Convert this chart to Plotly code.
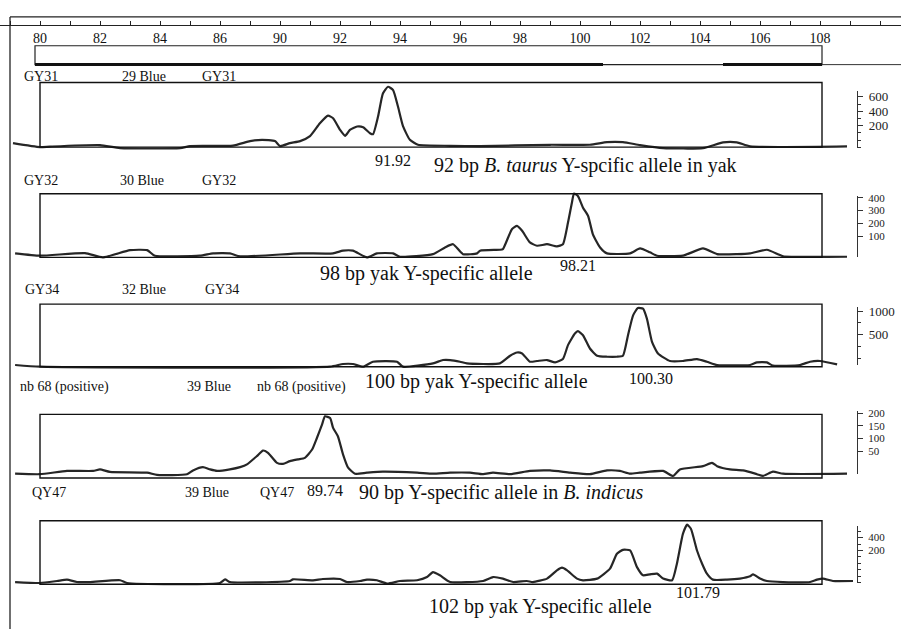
import plotly.graph_objects as go

W, H = 901, 629
FONT = "Liberation Serif"

# size-standard ruler along the top
ruler_vals = [80, 82, 84, 86, 88, 90, 92, 94, 96, 98, 100, 102, 104, 106]
ruler_text = ["80", "82", "84", "86", "90", "92", "94", "96", "98", "100", "102", "104", "106", "108"]

samples = ["GY31", "GY32", "GY34", "nb 68 (positive)", "QY47"]
dyes = ["29 Blue", "30 Blue", "32 Blue", "39 Blue", "39 Blue"]
peak_calls = ["91.92", "98.21", "100.30", "89.74", "101.79"]
captions = [
    "92 bp <i>B. taurus</i> Y-spcific allele in yak",
    "98 bp yak Y-specific allele",
    "100 bp yak Y-specific allele",
    "90 bp Y-specific allele in <i>B. indicus</i>",
    "102 bp yak Y-specific allele",
]
scale_ticks = [[200, 400, 600], [100, 200, 300, 400], [500, 1000], [50, 100, 150, 200], [200, 400]]

# electropherogram traces (ruler position, RFU)
gy31_x = [79.1, 80, 80.33, 82, 82.67, 84.67, 85, 86.43, 87, 87.4, 87.83, 88, 88.33, 88.67, 89, 89.33,
          89.6, 89.77, 90, 90.17, 90.33, 90.57, 90.77, 91, 91.1, 91.27, 91.43, 91.6, 91.77, 91.93, 92.1,
          92.33, 92.6, 93.67, 94.67, 97, 98.33, 98.9, 99.43, 100, 100.77, 102.1, 102.77, 103.23, 103.67, 106.9]
gy31_rfu = [55, 0, 7, 28, -14, -14, 14, 21, 83, 101, 83, 14, 55, 83, 152, 331,
            437, 400, 240, 156, 240, 286, 276, 193, 179, 428, 745, 838, 791, 566, 290,
            101, 32, 18, 14, 32, 32, 69, 69, 28, -14, -14, 65, 65, 10, 10]

gy32_x = [79.17, 80, 81.5, 82.1, 83, 83.57, 83.83, 85.33, 85.77, 86.33, 86.67, 88.67, 89.77, 90.1, 90.43,
          90.9, 91.23, 91.77, 92, 93.1, 93.5, 93.77, 94.1, 94.57, 94.67, 95.33, 95.43, 95.73, 95.9, 96.07,
          96.33, 96.57, 96.9, 97.23, 97.43, 97.6, 97.73, 97.8, 97.93, 98.1, 98.27, 98.43, 98.67, 98.9,
          99.67, 100, 100.33, 100.57, 101.43, 102.1, 102.57, 103.23, 103.67, 104.23, 104.6, 104.77, 106.9]
gy32_rfu = [31, 13, 33, 0, 56, 56, 13, 13, 31, 31, 8, 31, 31, 52, 52,
            0, 31, 31, 5, 25, 77, 102, 25, 31, 52, 59, 64, 218, 244, 206,
            116, 90, 102, 85, 102, 270, 424, 495, 475, 385, 321, 179, 77, 31,
            31, 69, 39, 13, 13, 69, 25, 25, 31, 59, 25, 8, 5]

gy34_x = [79.17, 80, 89.67, 90.1, 90.43, 90.77, 91.1, 91.9, 92.1, 93.1, 93.43, 93.67, 94, 94.23, 95.33,
          95.67, 95.9, 96.07, 96.33, 96.57, 96.9, 97.17, 97.43, 97.6, 97.83, 97.93, 98.1, 98.33, 98.57,
          98.9, 99.23, 99.43, 99.6, 99.77, 99.93, 100.1, 100.23, 100.4, 100.6, 101, 101.43, 101.9, 102.23,
          102.57, 103.67, 103.9, 104.23, 104.43, 105.33, 105.67, 106, 106.57]
gy34_rfu = [35, 0, 0, 56, 56, 0, 104, 104, 0, 69, 139, 139, 104, 69, 69,
            229, 297, 277, 104, 119, 139, 89, 160, 451, 693, 743, 659, 381, 229,
            208, 208, 229, 659, 1075, 1227, 1213, 1005, 520, 277, 119, 119, 160, 104,
            35, 35, 89, 89, 21, 35, 104, 119, 48]

nb68_x = [79.17, 80, 80.9, 81.77, 82, 82.33, 83.57, 83.9, 84.9, 85.1, 85.43, 85.67, 85.9, 86.33, 86.67,
          86.9, 87.23, 87.43, 87.6, 87.9, 88.1, 88.33, 88.6, 88.83, 89.07, 89.23, 89.4, 89.5, 89.67, 89.77,
          89.93, 90.1, 90.27, 90.5, 90.9, 91.43, 92.57, 93.1, 93.67, 94.33, 94.77, 95.1, 95.67, 96.33, 97,
          97.67, 98.33, 98.9, 99.33, 99.67, 100, 100.77, 101.1, 101.33, 102.1, 102.4, 102.57, 103, 103.43,
          103.9, 104.1, 104.43, 104.77, 106.9]
nb68_rfu = [17, 15, 28, 28, 34, 24, 21, 12, 15, 30, 43, 34, 28, 34, 43,
            54, 87, 109, 100, 60, 56, 67, 74, 80, 113, 159, 212, 245, 238, 199,
            166, 94, 41, 17, 21, 25, 21, 17, 21, 21, 15, 21, 15, 28, 30,
            21, 15, 30, 28, 17, 21, 28, 8, 34, 47, 60, 47, 34, 30,
            15, 8, 25, 17, 17]

qy47_x = [79.17, 80, 80.57, 80.9, 81.23, 81.67, 82.67, 82.9, 86, 86.17, 86.33, 88.33, 88.43, 89.1, 89.43,
          90, 90.23, 90.67, 90.9, 91.23, 91.57, 92, 92.57, 92.9, 93.1, 93.33, 93.67, 94.77, 95.1, 95.43,
          95.77, 96.23, 96.43, 96.9, 97.23, 97.4, 97.57, 97.9, 98.1, 98.57, 99, 99.23, 99.43, 99.67, 99.9,
          100.1, 100.33, 100.57, 100.77, 101.07, 101.23, 101.43, 101.57, 101.7, 101.9, 102.07, 102.23,
          102.43, 102.9, 103.33, 103.67, 103.77, 104, 104.23, 104.77, 105.67, 105.9, 106.1, 106.43, 107.1]
qy47_rfu = [35, 20, 51, 72, 35, 35, 62, 20, 20, 77, 35, 51, 77, 62, 82,
            82, 35, 51, 72, 62, 11, 51, 62, 112, 189, 139, 35, 51, 112, 88,
            35, 51, 35, 88, 216, 257, 216, 88, 62, 88, 242, 473, 534, 524, 266,
            139, 154, 165, 88, 62, 319, 781, 924, 858, 524, 319, 165,
            72, 72, 88, 123, 154, 88, 51, 35, 35, 72, 88, 51, 51]

traces = [(gy31_x, gy31_rfu), (gy32_x, gy32_rfu), (gy34_x, gy34_rfu), (nb68_x, nb68_rfu), (qy47_x, qy47_rfu)]

# page geometry of each lane, in pixels
panels = [
    dict(top=79, bot=144, rpp=13.8, lab_y=73, lab_x=(22, 120, 200), call=(393, 157), cap=(432, 163),
         sc=(88, 145), srange=(-110, 676), minor=100, sfont=13),
    dict(top=191, bot=255, rpp=7.7, lab_y=178, lab_x=(22, 118, 200), call=(578, 263), cap=(318, 271),
         sc=(193, 255), srange=(-62, 415), minor=None, sfont=11),
    dict(top=302, bot=365, rpp=20.8, lab_y=287, lab_x=(23, 120, 203), call=(651, 377), cap=(363, 380),
         sc=(305, 363), srange=(-125, 1083), minor=250, sfont=13),
    dict(top=413, bot=477, rpp=3.95, lab_y=385, lab_x=(18, 185, 255), call=(325, 490), cap=(357, 492),
         sc=(410, 473), srange=(-41, 208), minor=None, sfont=11),
    dict(top=520, bot=584, rpp=15.4, lab_y=492, lab_x=(30, 183, 258), call=(698, 592), cap=(427, 606),
         sc=(525, 583), srange=(-308, 585), minor=100, sfont=11),
]


def px2u(px):
    return 80 + (px - 40) / 30


def py(p):
    return 1 - p / H


fig = go.Figure()
shapes = []
annotations = []
PAD = 6

for i, (g, (xs, ys)) in enumerate(zip(panels, traces)):
    n = i + 1
    tname = "y" if n == 1 else f"y{n}"
    sname = f"y{n + 5}"
    fig.add_trace(go.Scatter(
        x=xs, y=ys, mode="lines", xaxis="x", yaxis=tname,
        line=dict(color="#262626", width=2.2, shape="spline", smoothing=0.5),
        showlegend=False, hoverinfo="skip"
    ))
    fig.add_trace(go.Scatter(x=[None], y=[None], xaxis="x", yaxis=sname,
                             showlegend=False, hoverinfo="skip"))

    rng = [-PAD * g["rpp"], (g["bot"] - g["top"] + PAD) * g["rpp"]]
    fig.layout[("yaxis" if n == 1 else f"yaxis{n}")] = dict(
        domain=[py(g["bot"] + PAD), py(g["top"] - PAD)], range=rng,
        visible=False, anchor="x", fixedrange=True
    )
    sax = dict(
        domain=[py(g["sc"][1]), py(g["sc"][0])], range=list(g["srange"]),
        anchor="free", position=857 / W, side="right",
        showline=True, linecolor="#333", linewidth=1.3, showgrid=False, zeroline=False,
        ticks="outside", ticklen=5, tickcolor="#333", tickvals=scale_ticks[i],
        ticklabelstandoff=3,
        tickfont=dict(family=FONT, size=g["sfont"], color="#222"), fixedrange=True
    )
    if g["minor"]:
        sax["minor"] = dict(ticks="outside", ticklen=3, dtick=g["minor"], tickcolor="#333")
    fig.layout[f"yaxis{n + 5}"] = sax

    # lane frame
    shapes.append(dict(type="rect", xref="x", yref="paper", x0=80, x1=px2u(822),
                       y0=py(g["bot"]), y1=py(g["top"]), line=dict(color="#111", width=1.4)))

    # lane header, peak call and caption
    for txt, lx in zip([samples[i], dyes[i], samples[i]], g["lab_x"]):
        annotations.append(dict(text=txt, x=lx / W, y=py(g["lab_y"]), xref="paper", yref="paper",
                                xanchor="left", yanchor="middle", showarrow=False,
                                font=dict(family=FONT, size=14, color="#111")))
    annotations.append(dict(text=peak_calls[i], x=g["call"][0] / W, y=py(g["call"][1]),
                            xref="paper", yref="paper", xanchor="center", yanchor="middle",
                            showarrow=False, font=dict(family=FONT, size=16, color="#111")))
    annotations.append(dict(text=captions[i], x=g["cap"][0] / W, y=py(g["cap"][1]),
                            xref="paper", yref="paper", xanchor="left", yanchor="middle",
                            showarrow=False, font=dict(family=FONT, size=20, color="#111")))

# outer frame and ruler bar
shapes += [
    dict(type="line", xref="paper", yref="paper", x0=10 / W, x1=1, y0=py(13), y1=py(13),
         line=dict(color="#222", width=1.3)),
    dict(type="line", xref="paper", yref="paper", x0=10 / W, x1=10 / W, y0=py(13), y1=0,
         line=dict(color="#222", width=1.3)),
    dict(type="rect", xref="x", yref="paper", x0=px2u(35), x1=px2u(822), y0=py(61), y1=py(42),
         line=dict(color="#222", width=1.2)),
    dict(type="line", xref="x", yref="paper", x0=px2u(822), x1=px2u(901), y0=py(61), y1=py(61),
         line=dict(color="#333", width=1)),
    dict(type="line", xref="x", yref="paper", x0=px2u(35), x1=px2u(603), y0=py(61), y1=py(61),
         line=dict(color="#111", width=3)),
    dict(type="line", xref="x", yref="paper", x0=px2u(723), x1=px2u(822), y0=py(61), y1=py(61),
         line=dict(color="#111", width=3)),
]

fig.update_layout(
    width=W, height=H,
    margin=dict(l=0, r=0, t=0, b=0, pad=0),
    paper_bgcolor="white",
    plot_bgcolor="rgba(0,0,0,0)",
    xaxis=dict(
        range=[px2u(0), px2u(W)], domain=[0, 1], anchor="free", position=py(21), side="bottom",
        showline=True, linecolor="#222", linewidth=1.3, showgrid=False, zeroline=False,
        tickvals=ruler_vals, ticktext=ruler_text, ticks="inside", ticklen=4, tickcolor="#222",
        minor=dict(ticks="inside", ticklen=4, dtick=1, tick0=80, tickcolor="#222"),
        tickfont=dict(family=FONT, size=14, color="#111"), fixedrange=True
    ),
    shapes=shapes,
    annotations=annotations,
)

fig.write_html("out.html", config={"displayModeBar": False},
               post_script="document.body.style.margin='0';document.body.style.overflow='hidden';")
